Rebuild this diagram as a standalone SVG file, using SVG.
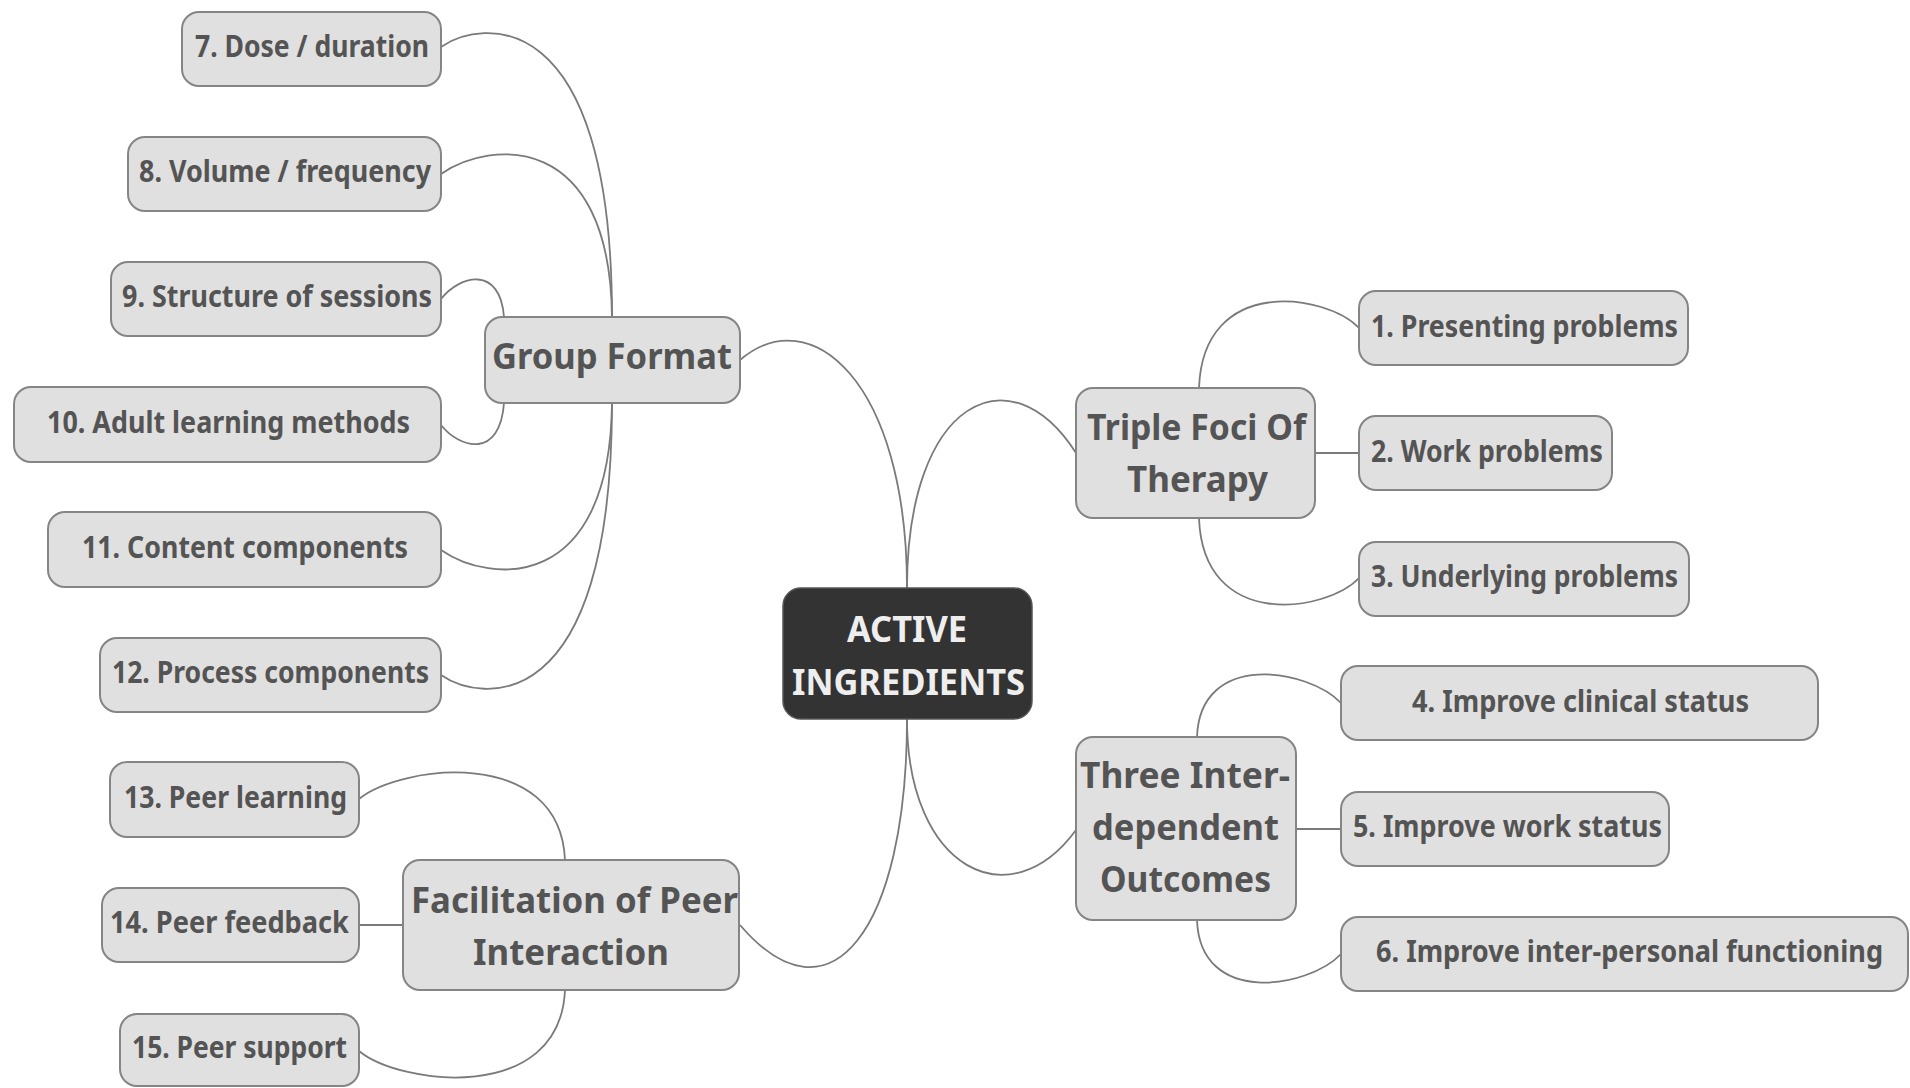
<svg xmlns="http://www.w3.org/2000/svg" width="1910" height="1088" viewBox="0 0 1910 1088">
  <style>
    .box { fill: #e0e0e0; stroke: #858585; stroke-width: 2; }
    .root { fill: #333333; stroke: #555555; stroke-width: 1.5; }
    .leaf { font-family: "Noto Sans", "Open Sans", sans-serif; font-weight: 700; font-size: 30px; fill: #545454; text-anchor: middle; }
    .branch { font-family: "Noto Sans", "Open Sans", sans-serif; font-weight: 700; font-size: 35px; fill: #545454; text-anchor: middle; }
    .roottext { font-family: "Noto Sans", "Open Sans", sans-serif; font-weight: 700; font-size: 36px; fill: #eeeeee; text-anchor: middle; }
    .link { fill: none; stroke: #7a7a7a; stroke-width: 1.8; }
  </style>

  <!-- connectors -->
  <g id="connectors">
    <!-- root to main branches -->
    <path class="link" d="M 740 360 C 810 300, 907 380, 907 588"/>
    <path class="link" d="M 1076 453 C 1010 350, 907 400, 907 588"/>
    <path class="link" d="M 740 925 C 830 1030, 907 930, 907 719"/>
    <path class="link" d="M 1076 830 C 1010 920, 907 870, 907 719"/>
    <!-- Group Format children -->
    <path class="link" d="M 441 47 C 480 20, 612 0, 612 317"/>
    <path class="link" d="M 441 174 C 490 140, 610 130, 612 317"/>
    <path class="link" d="M 441 299 C 460 275, 500 265, 504 317"/>
    <path class="link" d="M 441 425 C 460 449, 500 459, 504 403"/>
    <path class="link" d="M 441 550 C 490 584, 610 594, 612 403"/>
    <path class="link" d="M 441 675 C 480 702, 612 722, 612 403"/>
    <!-- Facilitation children -->
    <path class="link" d="M 359 799 C 400 765, 560 745, 565 860"/>
    <path class="link" d="M 359 925 L 403 925"/>
    <path class="link" d="M 359 1051 C 400 1085, 560 1105, 565 990"/>
    <!-- Triple Foci children -->
    <path class="link" d="M 1359 328 C 1327 294, 1203 274, 1199 388"/>
    <path class="link" d="M 1315 453 L 1359 453"/>
    <path class="link" d="M 1359 578 C 1327 612, 1203 632, 1199 518"/>
    <!-- Three Outcomes children -->
    <path class="link" d="M 1341 703 C 1309 669, 1200 650, 1197 737"/>
    <path class="link" d="M 1296 829 L 1341 829"/>
    <path class="link" d="M 1341 954 C 1309 988, 1200 1007, 1197 920"/>
  </g>

  <!-- central node -->
  <g id="root">
    <rect class="root" x="783" y="588" width="249" height="131" rx="18"/>
    <text class="roottext" x="907" y="642" textLength="120" lengthAdjust="spacingAndGlyphs">ACTIVE</text>
    <text class="roottext" x="908.5" y="695" textLength="233" lengthAdjust="spacingAndGlyphs">INGREDIENTS</text>
  </g>

  <!-- main branches -->
  <g id="group-format">
    <rect class="box" x="485" y="317" width="255" height="86" rx="17"/>
    <text class="branch" x="612" y="369" textLength="240" lengthAdjust="spacingAndGlyphs">Group Format</text>
  </g>
  <g id="facilitation">
    <rect class="box" x="403" y="860" width="336" height="130" rx="17"/>
    <text class="branch" x="574.5" y="913" textLength="327" lengthAdjust="spacingAndGlyphs">Facilitation of Peer</text>
    <text class="branch" x="571" y="965" textLength="196" lengthAdjust="spacingAndGlyphs">Interaction</text>
  </g>
  <g id="triple-foci">
    <rect class="box" x="1076" y="388" width="239" height="130" rx="17"/>
    <text class="branch" x="1196.5" y="440" textLength="219" lengthAdjust="spacingAndGlyphs">Triple Foci Of</text>
    <text class="branch" x="1197.5" y="492" textLength="141" lengthAdjust="spacingAndGlyphs">Therapy</text>
  </g>
  <g id="three-outcomes">
    <rect class="box" x="1076" y="737" width="220" height="183" rx="17"/>
    <text class="branch" x="1185" y="788" textLength="210" lengthAdjust="spacingAndGlyphs">Three Inter-</text>
    <text class="branch" x="1185.5" y="840" textLength="187" lengthAdjust="spacingAndGlyphs">dependent</text>
    <text class="branch" x="1185.5" y="892" textLength="171" lengthAdjust="spacingAndGlyphs">Outcomes</text>
  </g>

  <!-- leaves: Group Format -->
  <g id="n7">
    <rect class="box" x="182" y="12" width="259" height="74" rx="17"/>
    <text class="leaf" x="312" y="57" textLength="234" lengthAdjust="spacingAndGlyphs">7. Dose / duration</text>
  </g>
  <g id="n8">
    <rect class="box" x="128" y="137" width="313" height="74" rx="17"/>
    <text class="leaf" x="285" y="182" textLength="292" lengthAdjust="spacingAndGlyphs">8. Volume / frequency</text>
  </g>
  <g id="n9">
    <rect class="box" x="111" y="262" width="330" height="74" rx="17"/>
    <text class="leaf" x="277" y="307" textLength="310" lengthAdjust="spacingAndGlyphs">9. Structure of sessions</text>
  </g>
  <g id="n10">
    <rect class="box" x="14" y="387" width="427" height="75" rx="17"/>
    <text class="leaf" x="228.5" y="433" textLength="363" lengthAdjust="spacingAndGlyphs">10. Adult learning methods</text>
  </g>
  <g id="n11">
    <rect class="box" x="48" y="512" width="393" height="75" rx="17"/>
    <text class="leaf" x="245" y="558" textLength="326" lengthAdjust="spacingAndGlyphs">11. Content components</text>
  </g>
  <g id="n12">
    <rect class="box" x="100" y="638" width="341" height="74" rx="17"/>
    <text class="leaf" x="270.5" y="683" textLength="317" lengthAdjust="spacingAndGlyphs">12. Process components</text>
  </g>

  <!-- leaves: Facilitation -->
  <g id="n13">
    <rect class="box" x="110" y="762" width="249" height="75" rx="17"/>
    <text class="leaf" x="235.5" y="808" textLength="223" lengthAdjust="spacingAndGlyphs">13. Peer learning</text>
  </g>
  <g id="n14">
    <rect class="box" x="102" y="888" width="257" height="74" rx="17"/>
    <text class="leaf" x="229.5" y="933" textLength="239" lengthAdjust="spacingAndGlyphs">14. Peer feedback</text>
  </g>
  <g id="n15">
    <rect class="box" x="120" y="1014" width="239" height="72" rx="17"/>
    <text class="leaf" x="239.5" y="1058" textLength="215" lengthAdjust="spacingAndGlyphs">15. Peer support</text>
  </g>

  <!-- leaves: Triple Foci -->
  <g id="n1">
    <rect class="box" x="1359" y="291" width="329" height="74" rx="17"/>
    <text class="leaf" x="1524.5" y="337" textLength="307" lengthAdjust="spacingAndGlyphs">1. Presenting problems</text>
  </g>
  <g id="n2">
    <rect class="box" x="1359" y="416" width="253" height="74" rx="17"/>
    <text class="leaf" x="1487" y="462" textLength="232" lengthAdjust="spacingAndGlyphs">2. Work problems</text>
  </g>
  <g id="n3">
    <rect class="box" x="1359" y="542" width="330" height="74" rx="17"/>
    <text class="leaf" x="1524.5" y="587" textLength="307" lengthAdjust="spacingAndGlyphs">3. Underlying problems</text>
  </g>

  <!-- leaves: Three Outcomes -->
  <g id="n4">
    <rect class="box" x="1341" y="666" width="477" height="74" rx="17"/>
    <text class="leaf" x="1580.5" y="712" textLength="337" lengthAdjust="spacingAndGlyphs">4. Improve clinical status</text>
  </g>
  <g id="n5">
    <rect class="box" x="1341" y="792" width="328" height="74" rx="17"/>
    <text class="leaf" x="1507.5" y="837" textLength="309" lengthAdjust="spacingAndGlyphs">5. Improve work status</text>
  </g>
  <g id="n6">
    <rect class="box" x="1341" y="917" width="567" height="74" rx="17"/>
    <text class="leaf" x="1629.5" y="962" textLength="507" lengthAdjust="spacingAndGlyphs">6. Improve inter-personal functioning</text>
  </g>
</svg>
